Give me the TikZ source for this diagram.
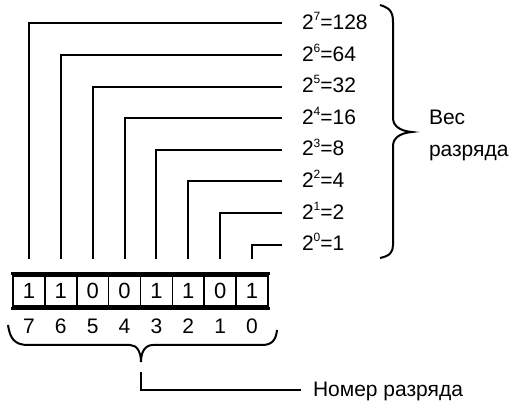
\documentclass[tikz,border=0pt]{standalone}
\usepackage{fontspec}
\setmainfont{Liberation Sans}
\newcommand{\expo}[1]{\raisebox{0.42em}{\fontsize{12}{14}\selectfont #1}}
\begin{document}
\begin{tikzpicture}[x=1pt,y=-1pt,line width=2pt,
  lbl/.style={anchor=base west,inner sep=0pt,font=\fontsize{21}{25}\selectfont},
  bitcell/.style={draw,minimum width=31.875pt,minimum height=30pt,inner sep=0pt,line width=1.6pt,font=\fontsize{22}{26}\selectfont},
  num/.style={anchor=base,inner sep=0pt,font=\fontsize{21}{25}\selectfont},
  conn/.style={line width=2pt}]
\useasboundingbox (0,0) rectangle (512,403);
% register cells
\foreach \b/\k [count=\i from 0] in {1/7,1/6,0/5,0/4,1/3,1/2,0/1,1/0}{
  \node[bitcell] (c\k) at ({13+31.875*(\i+0.5)},291) {\b};
  \node[num] (n\k) at ({13+31.875*(\i+0.5)},334) {\k};
}
\draw[line width=2.8pt] ([xshift=-1pt,yshift=1.5pt]c7.north west) -- ([xshift=1pt,yshift=1.5pt]c0.north east);
\draw[line width=2.8pt] ([xshift=-1pt,yshift=-1.5pt]c7.south west) -- ([xshift=1pt,yshift=-1.5pt]c0.south east);
% weight labels
\foreach \k/\v in {7/128,6/64,5/32,4/16,3/8,2/4,1/2,0/1}{
  \node[lbl] (w\k) at (301,{22+31.6*(7-\k)+7.5}) {2\expo{\k}=\v};
  \draw[conn] ([yshift=16pt]c\k.north) |- ([xshift=-19pt,yshift=6pt]w\k.base west);
}
% right brace
\draw[conn] (380,5) .. controls (390,8) and (393,12) .. (393,22) -- (393,118)
  .. controls (393,126) and (400,131) .. (412,132)
  .. controls (400,133) and (393,138) .. (393,146) -- (393,245)
  .. controls (393,252) and (390,256) .. (380,258);
\node[lbl] (ves1) at (428,125) {Вес};
\node[lbl] (ves2) at (428,157) {разряда};
% bottom brace
\draw[conn] (8,325) .. controls (10,339) and (15,345) .. (28,345) -- (130,345)
  .. controls (137,345) and (141,352) .. (141,362)
  .. controls (141,352) and (145,345) .. (153,345) -- (262,345)
  .. controls (272,345) and (276,340) .. (277,330);
\coordinate (btip) at (141,372);
\node[lbl] (nomer) at (312,397) {Номер разряда};
\draw[conn] (btip) |- ([xshift=-11pt,yshift=7pt]nomer.base west);
\end{tikzpicture}
\end{document}
